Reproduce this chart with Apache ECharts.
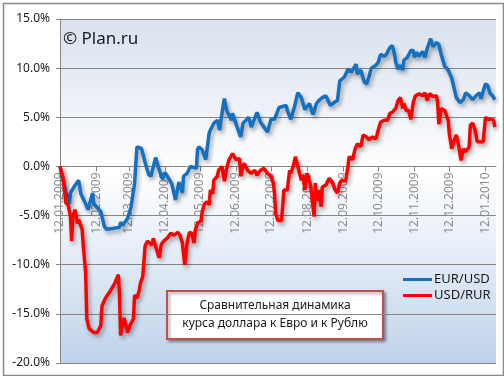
<!DOCTYPE html>
<html>
<head>
<meta charset="utf-8">
<script src="https://cdn.jsdelivr.net/npm/echarts@6/dist/echarts.min.js"></script>
<style>
    html, body { margin: 0; padding: 0; background: #fff; }
    #chart { width: 504px; height: 376px; }
</style>
</head>
<body>
<div id="chart"></div>
<script>
// days since 12.01.2009, values in %
const eurDays = [0, 5, 8, 9, 12, 16, 18, 22, 24, 28, 29, 35, 38, 40, 46, 51, 52, 54, 56, 58, 61, 64, 66, 70, 73, 76, 78, 82, 85, 88, 90, 92, 96, 99, 102, 105, 106, 109, 112, 117, 118, 119, 122, 125, 128, 129, 132, 135, 137, 138, 139, 141, 143, 147, 148, 152, 155, 157, 162, 164, 169, 172, 175, 178, 181, 184, 188, 194, 195, 198, 201, 204, 205, 207, 210, 214, 217, 220, 222, 225, 228, 232, 235, 238, 240, 244, 247, 250, 254, 255, 258, 261, 263, 265, 267, 271, 273, 275, 278, 280, 283, 285, 287, 288, 290, 292, 294, 295, 298, 301, 303, 304, 306, 308, 311, 313, 315, 318, 320, 323, 325, 327, 330, 333, 336, 338, 340, 343, 346, 348, 351, 354, 357, 360, 361, 365, 367, 369, 371, 373];
const eurValues = [0, -2.6, -3.8, -2.7, -2.1, -1.4, -2.8, -3.8, -4.4, -2.7, -3.8, -4.6, -6.1, -6.4, -6.3, -6.2, -5.7, -6.0, -5.6, -5.3, -4.1, -1.7, 2.0, 1.8, 0.4, -0.8, -1.0, 0.9, -0.3, -1.3, -0.6, -1.0, -1.8, -3.4, -1.6, -2.7, -1.0, -0.7, 0, -0.2, 1.7, 2.0, 1.7, 0.7, 3.4, 3.7, 4.4, 4.7, 3.7, 4.7, 5.4, 6.9, 5.7, 4.7, 5.4, 4.0, 3.0, 4.4, 5.0, 4.0, 5.5, 4.5, 4.0, 3.5, 4.8, 4.8, 6.0, 6.2, 5.7, 4.8, 6.0, 7.5, 7.7, 7.0, 5.8, 6.4, 5.3, 6.4, 6.7, 7.0, 7.2, 6.2, 6.5, 6.7, 8.7, 9.1, 9.9, 9.6, 10.4, 9.4, 9.8, 8.6, 8.4, 9.1, 10.0, 10.3, 10.6, 11.4, 11.2, 11.4, 12.1, 12.3, 11.4, 10.6, 9.9, 10.3, 9.8, 10.8, 11.1, 11.8, 11.8, 11.1, 11.6, 11.2, 11.7, 11.1, 12.0, 13.0, 12.2, 12.6, 12.4, 11.4, 10.2, 9.8, 9.0, 8.0, 7.0, 6.5, 6.8, 7.5, 7.2, 6.8, 7.2, 7.5, 6.9, 8.4, 8.2, 7.4, 7.2, 6.8];

const rurDays = [0, 3, 5, 7, 9, 10, 11, 13, 15, 16, 19, 20, 22, 23, 25, 29, 32, 35, 36, 39, 43, 47, 50, 51, 52, 53, 55, 58, 60, 63, 64, 66, 68, 69, 71, 73, 75, 77, 79, 80, 83, 85, 87, 89, 92, 95, 98, 101, 103, 105, 107, 109, 111, 113, 115, 116, 118, 121, 122, 124, 126, 128, 129, 131, 132, 135, 136, 137, 139, 141, 143, 145, 148, 151, 154, 155, 157, 158, 161, 164, 167, 169, 172, 175, 178, 181, 183, 184, 185, 187, 190, 191, 192, 195, 197, 198, 200, 202, 204, 207, 209, 210, 212, 215, 218, 219, 220, 222, 224, 225, 228, 231, 234, 236, 238, 240, 242, 245, 247, 248, 251, 253, 255, 258, 260, 263, 265, 268, 271, 273, 275, 278, 281, 283, 285, 288, 290, 292, 294, 295, 297, 299, 301, 303, 305, 308, 311, 313, 315, 317, 320, 323, 324, 325, 327, 330, 333, 334, 336, 338, 340, 342, 344, 346, 348, 351, 352, 354, 356, 358, 363, 365, 367, 370, 372, 373];
const rurValues = [0, -1.4, -3.7, -3.9, -5.1, -7.6, -5.1, -4.4, -5.8, -5.4, -6.4, -8.1, -10.8, -15.5, -16.5, -16.9, -16.9, -16.2, -14.2, -13.4, -12.7, -11.9, -11.0, -12.9, -17.2, -16.5, -15.4, -16.9, -16.2, -15.5, -13.1, -13.4, -12.6, -11.9, -11.2, -8.1, -7.6, -7.8, -8.0, -7.3, -8.5, -9.3, -7.9, -7.6, -7.3, -6.8, -7.0, -6.7, -7.0, -7.8, -10.0, -7.8, -6.7, -6.8, -7.8, -6.5, -5.8, -5.5, -4.6, -3.8, -3.6, -3.9, -2.4, -2.8, -1.4, -1.0, -0.4, -0.5, 0.0, -1.5, -0.2, 0.7, 1.3, 0.7, 0.8, -1.0, 0.0, 0.3, -0.4, -0.7, -0.4, -0.9, -0.4, -0.2, -0.7, -1.0, -1.7, -2.7, -4.8, -5.5, -5.5, -4.1, -2.4, -2.4, -0.4, -0.7, 0.0, 1.0, 0.0, -1.4, -0.9, -2.4, -0.7, -1.9, -5.1, -1.7, -3.5, -2.4, -4.1, -2.1, -1.9, -1.2, -1.7, -2.4, -2.7, -1.7, -1.4, -1.5, 0.0, 1.0, 0.7, 1.7, 2.3, 2.0, 3.2, 3.0, 2.7, 3.0, 2.8, 3.7, 4.5, 4.7, 4.7, 5.4, 5.5, 5.9, 6.7, 7.0, 5.9, 6.4, 5.7, 5.7, 4.8, 6.5, 7.2, 7.4, 7.2, 7.5, 6.7, 7.4, 7.1, 7.2, 6.4, 4.3, 5.9, 5.7, 4.7, 3.3, 1.8, 2.6, 3.2, 2.1, 0.6, 1.8, 1.5, 2.0, 4.2, 4.4, 3.7, 2.5, 2.5, 5.0, 4.8, 4.8, 4.7, 4.0];

const tickDays = [0, 31, 59, 90, 120, 151, 181, 212, 243, 273, 304, 334, 365];
const tickLabels = ['12.01.2009', '12.02.2009', '12.03.2009', '12.04.2009', '12.05.2009', '12.06.2009',
    '12.07.2009', '12.08.2009', '12.09.2009', '12.10.2009', '12.11.2009', '12.12.2009', '12.01.2010'];

const seriesNames = ['EUR/USD', 'USD/RUR'];
const titleLines = ['Сравнительная динамика', 'курса доллара к Евро и к Рублю'];

function zip(days, values) {
    return days.map((d, i) => [d, values[i]]);
}

const font = 'Noto Sans';
const gridColor = '#868686';
const yMin = -20, yMax = 15;
const gridTop = 19, gridBottom = 13, chartHeight = 376;
// lift the date axis from the bottom edge up to the 0% line
const plotHeight = chartHeight - gridTop - gridBottom;
const zeroOffset = -plotHeight * (0 - yMin) / (yMax - yMin);

const lineShadow = {
    shadowColor: 'rgba(0, 0, 0, 0.35)',
    shadowBlur: 4,
    shadowOffsetX: 2,
    shadowOffsetY: 3
};

let chart = echarts.init(document.getElementById('chart'));
let options = {
    animation: false,
    textStyle: { fontFamily: font },
    grid: {
        left: 60,
        right: 8,
        top: gridTop,
        bottom: gridBottom,
        outerBoundsMode: 'none',
        containLabel: false,
        show: true,
        borderWidth: 0,
        backgroundColor: new echarts.graphic.LinearGradient(0, 0, 0, 1, [
            { offset: 0, color: '#d8e1ee' },
            { offset: 0.45, color: '#ffffff' },
            { offset: 1, color: '#c0d3eb' }
        ])
    },
    legend: {
        orient: 'vertical',
        left: 398,
        top: 268,
        icon: 'rect',
        itemWidth: 29,
        itemHeight: 3,
        itemGap: 3,
        data: seriesNames,
        textStyle: { fontFamily: font, fontSize: 13, color: '#1a1a1a', padding: [0, 0, 0, -3] }
    },
    xAxis: {
        type: 'value',
        min: 0,
        max: 374,
        position: 'bottom',
        offset: zeroOffset,
        axisLine: { onZero: false, lineStyle: { color: gridColor, width: 1 } },
        axisTick: { customValues: tickDays, length: 5, lineStyle: { color: gridColor } },
        axisLabel: {
            customValues: tickDays,
            rotate: 90,
            margin: 6,
            fontSize: 12,
            fontFamily: font,
            color: '#8a8a8a',
            formatter: function(v) {
                let idx = tickDays.indexOf(v);
                return idx >= 0 ? tickLabels[idx] : '';
            }
        },
        splitLine: { show: false }
    },
    yAxis: {
        type: 'value',
        min: yMin,
        max: yMax,
        interval: 5,
        axisLine: { show: true, onZero: false, lineStyle: { color: gridColor } },
        axisTick: { show: true, length: 4, lineStyle: { color: gridColor } },
        axisLabel: {
            margin: 10,
            fontSize: 12,
            fontFamily: font,
            color: '#1a1a1a',
            formatter: function(v) { return v.toFixed(1) + '%'; }
        },
        splitLine: { lineStyle: { color: gridColor, width: 1 } }
    },
    series: [
        {
            name: seriesNames[0],
            type: 'line',
            symbol: 'none',
            color: '#1570c0',
            lineStyle: Object.assign({ width: 3.5, color: '#1570c0' }, lineShadow),
            data: zip(eurDays, eurValues)
        },
        {
            name: seriesNames[1],
            type: 'line',
            symbol: 'none',
            color: '#ff0000',
            lineStyle: Object.assign({ width: 3.5, color: '#ff0000' }, lineShadow),
            data: zip(rurDays, rurValues)
        }
    ],
    graphic: [
        {
            type: 'rect',
            left: 1,
            top: 1,
            shape: { width: 500, height: 372 },
            style: { fill: 'none', stroke: '#8a8a8a', lineWidth: 1.5 },
            silent: true
        },
        {
            type: 'text',
            left: 63,
            top: 31,
            style: { text: '© Plan.ru', fontFamily: font, fontSize: 17, fill: '#1a1a1a' }
        },
        {
            type: 'group',
            left: 166,
            top: 290,
            children: [
                {
                    type: 'rect',
                    shape: { x: 0, y: 0, width: 216, height: 48 },
                    style: {
                        fill: '#ffffff',
                        stroke: '#c0504d',
                        lineWidth: 2,
                        shadowColor: 'rgba(0, 0, 0, 0.35)',
                        shadowBlur: 3,
                        shadowOffsetX: 2,
                        shadowOffsetY: 2
                    }
                },
                {
                    type: 'text',
                    x: 108,
                    y: 24,
                    style: {
                        text: titleLines.join('\n'),
                        align: 'center',
                        verticalAlign: 'middle',
                        lineHeight: 18,
                        fontFamily: font,
                        fontSize: 12,
                        fill: '#1a1a1a'
                    }
                }
            ]
        }
    ]
};
chart.setOption(options);
</script>
</body>
</html>
